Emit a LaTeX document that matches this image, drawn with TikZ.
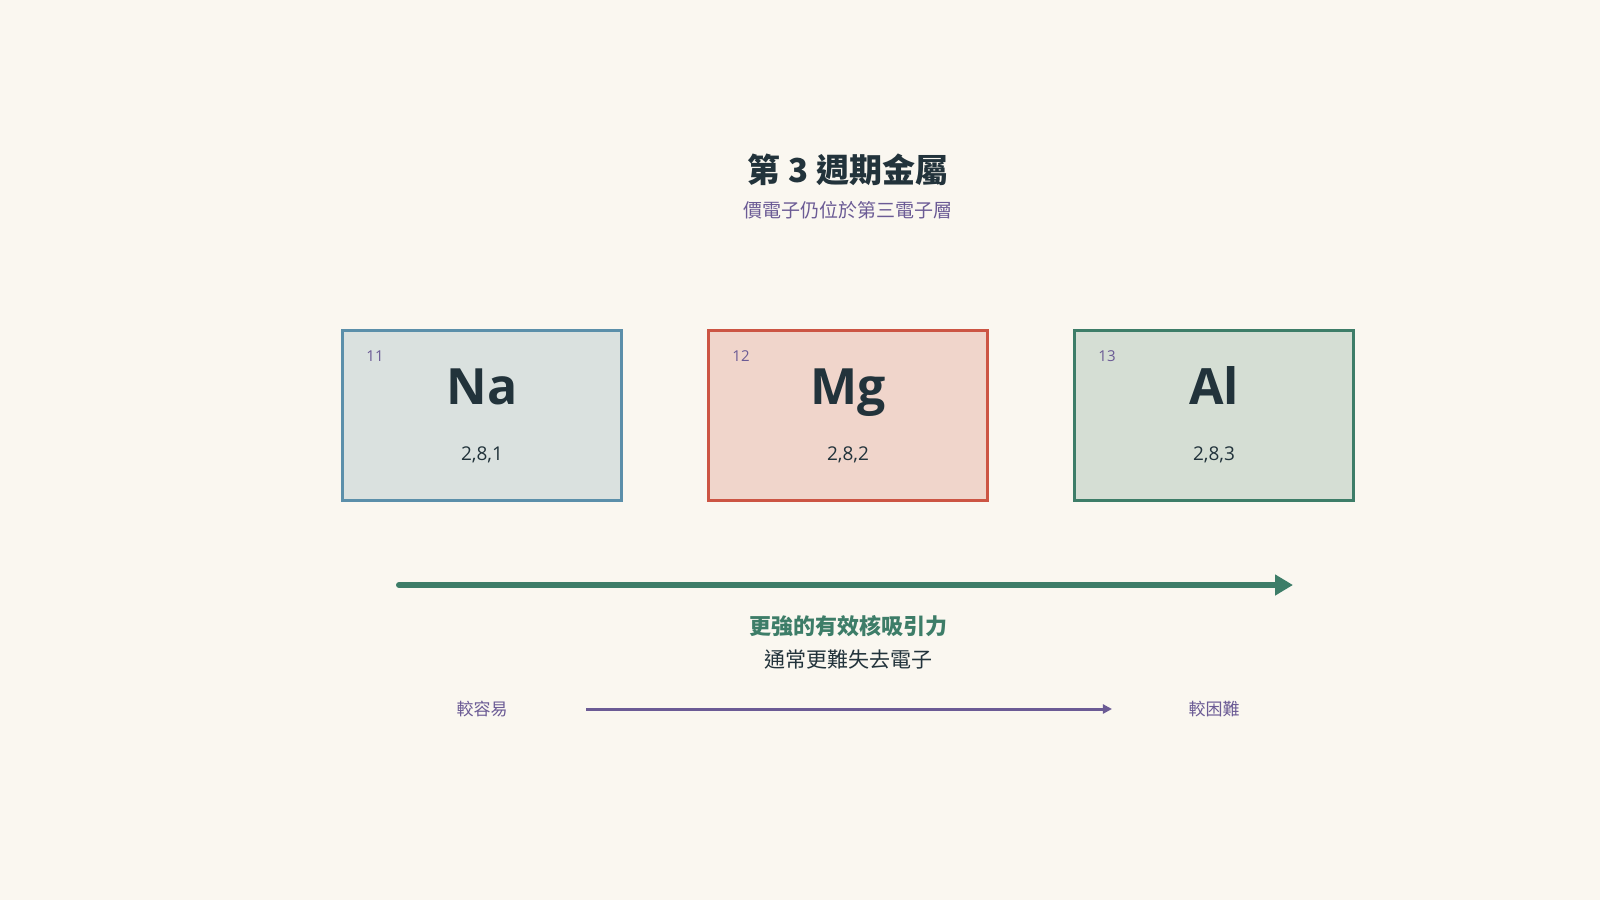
\documentclass[tikz,border=0pt]{standalone}
\usepackage{fontspec}
\setmainfont{Noto Sans CJK TC}
\newfontfamily\latinfont{Open Sans}
\usetikzlibrary{positioning,arrows.meta}
\definecolor{paper}{HTML}{FAF7F0}
\definecolor{ink}{HTML}{22333B}
\definecolor{violet}{HTML}{6B5B95}
\definecolor{pine}{HTML}{3D7D68}
\definecolor{steel}{HTML}{5B8FAA}
\definecolor{brick}{HTML}{CC5544}
\definecolor{nafill}{HTML}{DAE1DF}
\definecolor{mgfill}{HTML}{F0D5CB}
\definecolor{alfill}{HTML}{D5DED4}

\begin{document}
\begin{tikzpicture}[x=1pt,y=-1pt,node distance=366pt,on grid,
    element/.style={draw,line width=3pt,minimum width=279pt,minimum height=170pt,inner sep=0pt},
    symbol/.style={font=\latinfont\bfseries\fontsize{50}{56}\selectfont,text=ink,anchor=base,inner sep=0pt},
    atomnum/.style={font=\latinfont\fontsize{15}{18}\selectfont,text=violet},
    shells/.style={font=\latinfont\fontsize{19}{22}\selectfont,text=ink},
    hint/.style={font=\fontsize{17}{20}\selectfont,text=violet}]
    \fill[paper] (0,0) rectangle (1600,900);
    \node[font=\bfseries\fontsize{33}{38}\selectfont,text=ink] (title) at (848,170) {第 3 週期金屬};
    \node[font=\fontsize{19}{22}\selectfont,text=violet,below=40pt of title] (subtitle) {價電子仍位於第三電子層};
    % element cards
    \node[element,draw=steel,fill=nafill] (na) at (482,415.5) {};
    \node[element,draw=brick,fill=mgfill,right=of na] (mg) {};
    \node[element,draw=pine,fill=alfill,right=of mg] (al) {};
    \node[atomnum] at ([xshift=-107pt,yshift=59.5pt]na.center) (na-num) {11};
    \node[symbol] at ([yshift=11.5pt]na.center) (na-sym) {Na};
    \node[shells] at ([yshift=-39.5pt]na.center) (na-conf) {2,8,1};
    \node[atomnum] at ([xshift=-107pt,yshift=59.5pt]mg.center) (mg-num) {12};
    \node[symbol] at ([yshift=11.5pt]mg.center) (mg-sym) {Mg};
    \node[shells] at ([yshift=-39.5pt]mg.center) (mg-conf) {2,8,2};
    \node[atomnum] at ([xshift=-107pt,yshift=59.5pt]al.center) (al-num) {13};
    \node[symbol] at ([yshift=11.5pt]al.center) (al-sym) {Al};
    \node[shells] at ([yshift=-39.5pt]al.center) (al-conf) {2,8,3};
    % trend arrow
    \coordinate (pull-start) at (399,585);
    \coordinate (pull-end) at (1293,585);
    \draw[pine,line width=6pt,line cap=round,-{Triangle[length=18pt,width=20pt]}] (pull-start) -- (pull-end);
    \node[font=\bfseries\fontsize{22}{26}\selectfont,text=pine] (pull) at (848,626) {更強的有效核吸引力};
    \node[font=\fontsize{21}{25}\selectfont,text=ink,below=34pt of pull] (harder) {通常更難失去電子};
    \node[hint] (easy) at (482,709) {較容易};
    \node[hint,right=732pt of easy] (hard) {較困難};
    \draw[violet,line width=3pt,-{Triangle[length=9pt,width=9pt]},shorten <=75pt,shorten >=73pt] (easy.east) -- (hard.west);
\end{tikzpicture}
\end{document}
